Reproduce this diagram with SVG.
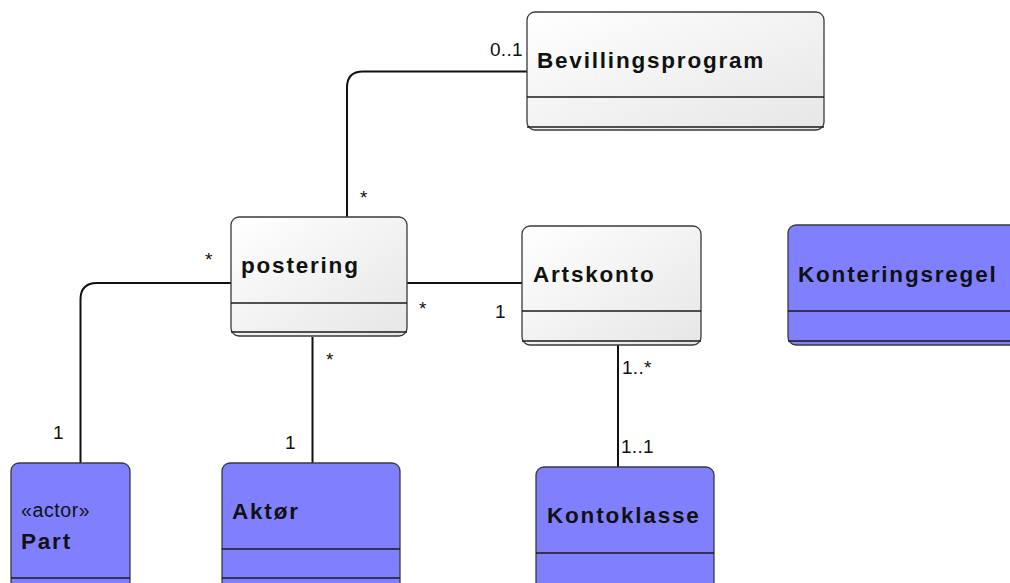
<svg xmlns="http://www.w3.org/2000/svg" width="1010" height="583" viewBox="0 0 1010 583">
  <defs>
    <linearGradient id="gray" x1="0" y1="0" x2="1" y2="1">
      <stop offset="0" stop-color="#ffffff"/>
      <stop offset="1" stop-color="#e6e6e6"/>
    </linearGradient>
    <style>
      .box { stroke: #3a3a3a; stroke-width: 1.3; }
      .plain { fill: url(#gray); }
      .blue { fill: #8080ff; }
      .sep { stroke: #1a1a1a; stroke-width: 1.6; fill: none; }
      .name { font-family: "Liberation Sans", Arial, sans-serif; font-weight: bold; font-size: 22.5px; letter-spacing: 1.8px; fill: #111; }
      .stereo { font-family: "Liberation Sans", Arial, sans-serif; font-size: 19.5px; letter-spacing: 0.6px; fill: #111; }
      .conn { stroke: #111; stroke-width: 2; fill: none; }
      .mult { font-family: "Liberation Sans", Arial, sans-serif; font-size: 19px; letter-spacing: 0.3px; fill: #111; }
    </style>
  </defs>

  <!-- associations -->
  <g id="connectors">
    <path class="conn" d="M527,71.5 H363 Q347,71.5 347,87.5 V217"/>
    <path class="conn" d="M231,283 H97 Q80.5,283 80.5,299.5 V463"/>
    <path class="conn" d="M407,283 H522"/>
    <path class="conn" d="M312.5,337 V463"/>
    <path class="conn" d="M618,345 V467"/>
    <text class="mult" x="490" y="56">0..1</text>
    <text class="mult" x="360" y="204">*</text>
    <text class="mult" x="205" y="266">*</text>
    <text class="mult" x="53" y="439">1</text>
    <text class="mult" x="419" y="315">*</text>
    <text class="mult" x="495" y="318">1</text>
    <text class="mult" x="326" y="366">*</text>
    <text class="mult" x="285" y="449">1</text>
    <text class="mult" x="622" y="374">1..*</text>
    <text class="mult" x="621" y="453">1..1</text>
  </g>

  <g id="Bevillingsprogram">
    <rect class="box plain" x="527" y="12" width="297" height="118" rx="8"/>
    <line class="sep" x1="527" y1="97" x2="824" y2="97"/>
    <line class="sep" x1="527" y1="127" x2="824" y2="127"/>
    <text class="name" x="537" y="68">Bevillingsprogram</text>
  </g>

  <g id="postering">
    <rect class="box plain" x="231" y="217" width="176" height="119" rx="8"/>
    <line class="sep" x1="231" y1="303" x2="407" y2="303"/>
    <line class="sep" x1="231" y1="332" x2="407" y2="332"/>
    <text class="name" x="241" y="273">postering</text>
  </g>

  <g id="Artskonto">
    <rect class="box plain" x="522" y="226" width="179" height="119" rx="8"/>
    <line class="sep" x1="522" y1="311" x2="701" y2="311"/>
    <line class="sep" x1="522" y1="341" x2="701" y2="341"/>
    <text class="name" x="533" y="282">Artskonto</text>
  </g>

  <g id="Konteringsregel">
    <rect class="box blue" x="788" y="225" width="240" height="120" rx="8"/>
    <line class="sep" x1="788" y1="311" x2="1010" y2="311"/>
    <line class="sep" x1="788" y1="341" x2="1010" y2="341"/>
    <text class="name" x="798" y="282">Konteringsregel</text>
  </g>

  <g id="Part">
    <rect class="box blue" x="11" y="463" width="119" height="130" rx="8"/>
    <line class="sep" x1="11" y1="578" x2="130" y2="578"/>
    <text class="stereo" x="21" y="517">«actor»</text>
    <text class="name" x="21" y="549">Part</text>
  </g>

  <g id="Aktor">
    <rect class="box blue" x="222" y="463" width="178" height="130" rx="8"/>
    <line class="sep" x1="222" y1="549" x2="400" y2="549"/>
    <line class="sep" x1="222" y1="578" x2="400" y2="578"/>
    <text class="name" x="232" y="519">Aktør</text>
  </g>

  <g id="Kontoklasse">
    <rect class="box blue" x="536" y="467" width="178" height="130" rx="8"/>
    <line class="sep" x1="536" y1="553" x2="714" y2="553"/>
    <text class="name" x="547" y="523">Kontoklasse</text>
  </g>
</svg>
